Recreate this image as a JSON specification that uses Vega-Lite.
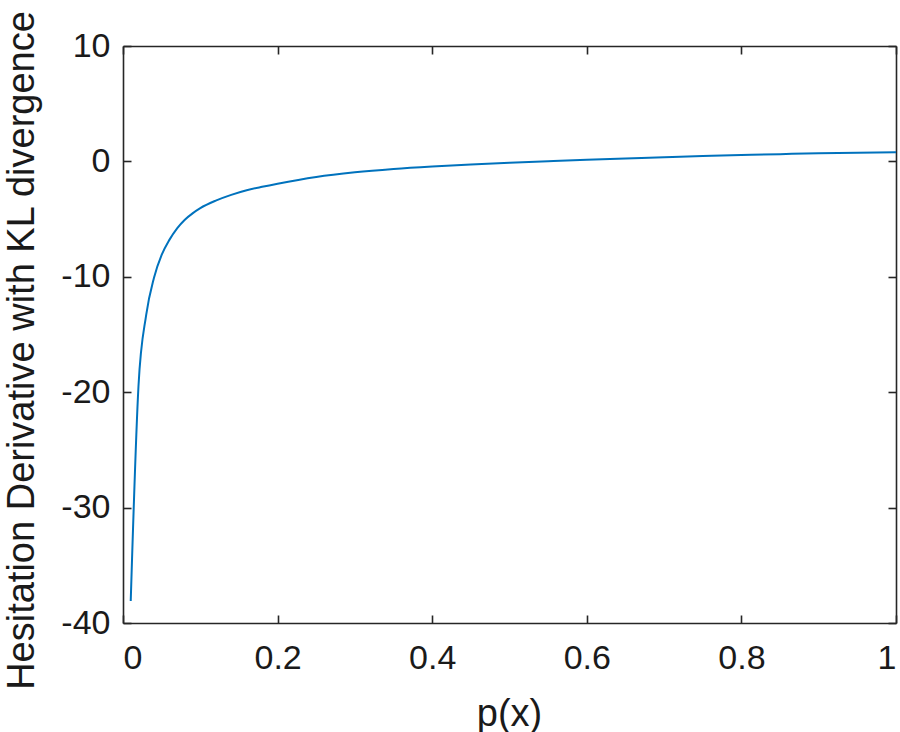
{
  "$schema": "https://vega.github.io/schema/vega-lite/v6.json",
  "autosize": "none",
  "width": 773,
  "height": 577,
  "padding": {"left": 123, "top": 46, "right": 4, "bottom": 109},
  "background": "white",
  "config": {
    "view": {"stroke": null},
    "axis": {
      "labelFont": "Liberation Sans",
      "titleFont": "Liberation Sans",
      "labelFontSize": 34,
      "titleFontSize": 38,
      "labelColor": "#1a1a1a",
      "titleColor": "#1a1a1a",
      "titleFontWeight": "normal",
      "domainColor": "#262626",
      "tickColor": "#262626",
      "domainWidth": 1.6,
      "tickWidth": 1.6,
      "grid": false
    }
  },
  "data": {
    "values": [
      {"p": 0.01, "v": -38.1},
      {"p": 0.02, "v": -19.5},
      {"p": 0.03, "v": -13.3},
      {"p": 0.04, "v": -10.1},
      {"p": 0.05, "v": -8.1},
      {"p": 0.06, "v": -6.8},
      {"p": 0.07, "v": -5.8},
      {"p": 0.08, "v": -5.05},
      {"p": 0.09, "v": -4.5},
      {"p": 0.10, "v": -4.05},
      {"p": 0.12, "v": -3.4},
      {"p": 0.14, "v": -2.9},
      {"p": 0.16, "v": -2.5},
      {"p": 0.18, "v": -2.2},
      {"p": 0.20, "v": -1.93},
      {"p": 0.25, "v": -1.35},
      {"p": 0.30, "v": -0.95},
      {"p": 0.35, "v": -0.66},
      {"p": 0.40, "v": -0.44},
      {"p": 0.45, "v": -0.26},
      {"p": 0.50, "v": -0.11},
      {"p": 0.55, "v": 0.02},
      {"p": 0.60, "v": 0.14},
      {"p": 0.65, "v": 0.25},
      {"p": 0.70, "v": 0.36},
      {"p": 0.75, "v": 0.46},
      {"p": 0.80, "v": 0.55},
      {"p": 0.85, "v": 0.63},
      {"p": 0.90, "v": 0.7},
      {"p": 0.95, "v": 0.75},
      {"p": 1.00, "v": 0.8}
    ]
  },
  "layer": [
    {
      "mark": {"type": "line", "color": "#0072BD", "strokeWidth": 2, "interpolate": "monotone"},
      "encoding": {
        "x": {
          "field": "p", "type": "quantitative",
          "scale": {"domain": [0, 1], "nice": false, "zero": false},
          "axis": {
            "orient": "bottom",
            "values": [0, 0.2, 0.4, 0.6, 0.8, 1],
            "format": ".1~f",
            "tickSize": -8,
            "labelPadding": 26,
            "title": "p(x)",
            "titleX": 386,
            "titleY": 102,
            "titleBaseline": "alphabetic",
            "titleAnchor": "middle"
          }
        },
        "y": {
          "field": "v", "type": "quantitative",
          "scale": {"domain": [-40, 10], "nice": false, "zero": false},
          "axis": {
            "orient": "left",
            "values": [-40, -30, -20, -10, 0, 10],
            "labelExpr": "replace(datum.label, '\u2212', '-')",
            "tickSize": -8,
            "labelPadding": 21,
            "title": "Hesitation Derivative with KL divergence",
            "titleAngle": -90,
            "titleX": -90,
            "titleY": 304,
            "titleBaseline": "alphabetic",
            "titleAlign": "center"
          }
        }
      }
    },
    {
      "mark": {"type": "line", "opacity": 0},
      "encoding": {
        "x": {
          "field": "p", "type": "quantitative",
          "axis": {"orient": "top", "values": [0, 0.2, 0.4, 0.6, 0.8, 1], "tickSize": -8, "labels": false, "title": null}
        },
        "y": {
          "field": "v", "type": "quantitative",
          "axis": {"orient": "right", "values": [-40, -30, -20, -10, 0, 10], "tickSize": -8, "labels": false, "title": null}
        }
      }
    }
  ]
}
